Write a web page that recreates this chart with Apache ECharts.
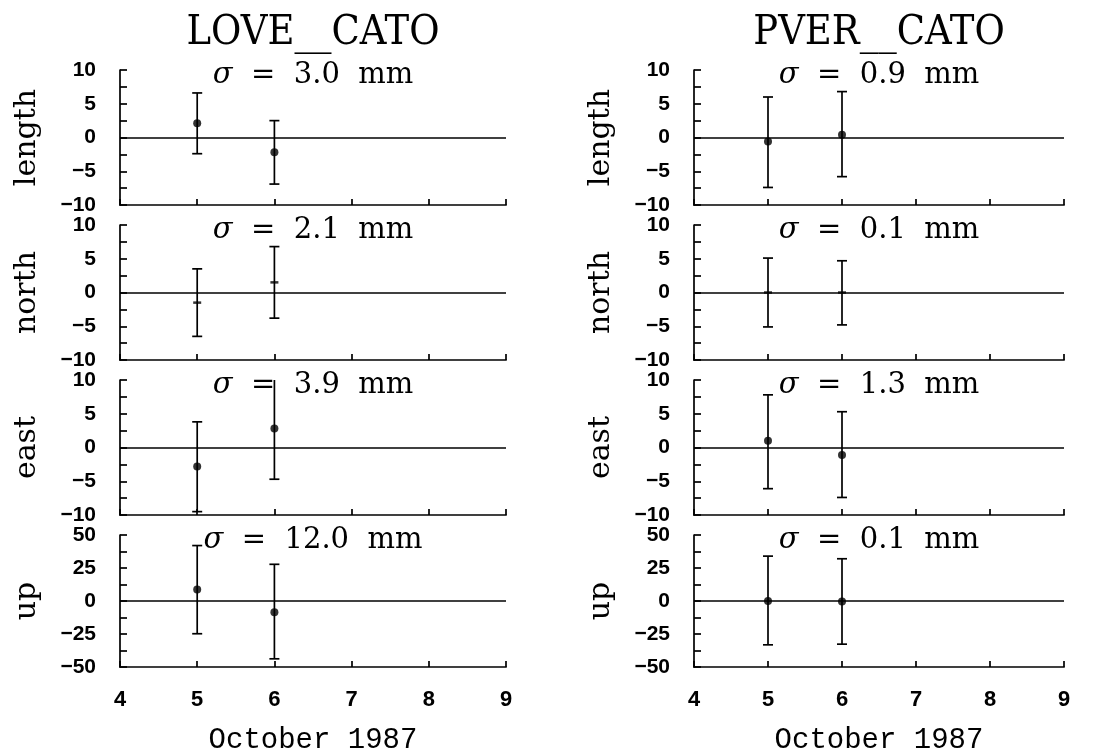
<!DOCTYPE html>
<html><head><meta charset="utf-8">
<script src="https://cdn.jsdelivr.net/npm/echarts@6/dist/echarts.min.js"></script>
<style>html,body{margin:0;padding:0;background:#fff}#c{width:1097px;height:756px}</style>
</head><body><div id="c"></div>
<script>
// ---------- data ----------
const stations = ['LOVE__CATO', 'PVER__CATO'];
const components = ['length', 'north', 'east', 'up'];
const days = [5, 6];                 // October 1987
const xMin = 4, xMax = 9, xStep = 1;
const yMin = [-10, -10, -10, -50];
const yMax = [10, 10, 10, 50];
const yTickStep = [2.5, 2.5, 2.5, 12.5];
const sigmaLOVE = ['3.0', '2.1', '3.9', '12.0'];
const sigmaPVER = ['0.9', '0.1', '1.3', '0.1'];

const loveLengthVal = [2.1, -2.2], loveLengthLow = [-2.4, -6.9], loveLengthHigh = [6.6, 2.5];
const loveNorthVal = [-1.5, 1.5], loveNorthLow = [-6.5, -3.8], loveNorthHigh = [3.5, 6.8];
const loveEastVal = [-2.8, 2.8], loveEastLow = [-9.5, -4.7], loveEastHigh = [3.8, 10.3];
const loveUpVal = [8.7, -8.5], loveUpLow = [-24.8, -43.8], loveUpHigh = [42, 27.8];

const pverLengthVal = [-0.6, 0.4], pverLengthLow = [-7.4, -5.8], pverLengthHigh = [6.0, 6.8];
const pverNorthVal = [0, 0], pverNorthLow = [-5.1, -4.8], pverNorthHigh = [5.1, 4.7];
const pverEastVal = [1.0, -1.1], pverEastLow = [-6.1, -7.4], pverEastHigh = [7.8, 5.3];
const pverUpVal = [0, -0.3], pverUpLow = [-33.2, -32.7], pverUpHigh = [34, 32];

const panels = [
  [[loveLengthVal, loveLengthLow, loveLengthHigh], [loveNorthVal, loveNorthLow, loveNorthHigh],
   [loveEastVal, loveEastLow, loveEastHigh], [loveUpVal, loveUpLow, loveUpHigh]],
  [[pverLengthVal, pverLengthLow, pverLengthHigh], [pverNorthVal, pverNorthLow, pverNorthHigh],
   [pverEastVal, pverEastLow, pverEastHigh], [pverUpVal, pverUpLow, pverUpHigh]]
];
const sigmas = [sigmaLOVE, sigmaPVER];

// ---------- layout ----------
const colLeft = [120, 694], colWidth = [386, 370];
const rowTop = [70, 225, 380, 535], rowH = 135;
const BLACK = '#000';
const lineW = 1.7;

const grid = [], xAxis = [], yAxis = [], series = [], graphic = [];

function fmtY(step) {
  return function (v) {
    const r = Math.abs(v / (step * 2) - Math.round(v / (step * 2)));
    if (r > 1e-6) return '';
    return String(v).replace('-', '\u2212');
  };
}

for (let c = 0; c < 2; c++) {
  const cx = colLeft[c] + colWidth[c] / 2;
  graphic.push({
    type: 'text', x: cx, y: 33, scaleY: 1.12,
    style: { text: stations[c], fill: BLACK, align: 'center', verticalAlign: 'middle',
             font: '37px "DejaVu Serif"' }
  });
  for (let r = 0; r < 4; r++) {
    const i = c * 4 + r;
    grid.push({ left: colLeft[c], top: rowTop[r], width: colWidth[c], height: rowH, containLabel: false });
    const last = r === 3;
    xAxis.push({
      type: 'value', gridIndex: i, min: xMin, max: xMax, interval: xStep,
      axisLine: { show: true, onZero: false, lineStyle: { color: BLACK, width: lineW } },
      axisTick: { show: true, inside: true, length: 6, lineStyle: { color: BLACK, width: lineW } },
      axisLabel: { show: last, margin: 22, color: BLACK, fontFamily: '"Liberation Mono", monospace', fontWeight: 'bold', fontSize: 22 },
      splitLine: { show: false },
      name: last ? 'October 1987' : '', nameLocation: 'middle', nameGap: 59,
      nameTextStyle: { color: BLACK, fontFamily: '"Liberation Mono", monospace', fontSize: 29 }
    });
    yAxis.push({
      type: 'value', gridIndex: i, min: yMin[r], max: yMax[r], interval: yTickStep[r],
      axisLine: { show: true, onZero: false, lineStyle: { color: BLACK, width: lineW } },
      axisTick: { show: true, inside: true, length: 7, lineStyle: { color: BLACK, width: lineW } },
      axisLabel: { show: true, margin: 24, color: BLACK, fontFamily: '"Liberation Sans", Arial, sans-serif', fontWeight: 'bold', fontSize: 21,
                   formatter: fmtY(yTickStep[r]) },
      splitLine: { show: false },
      name: components[r], nameLocation: 'middle', nameGap: 78, nameRotate: 90,
      nameTextStyle: { color: BLACK, fontFamily: '"DejaVu Serif", serif', fontSize: 30 }
    });
    const [vals, lows, highs] = panels[c][r];
    series.push({
      type: 'custom', xAxisIndex: i, yAxisIndex: i, silent: true,
      data: days.map((d, k) => [d, lows[k], highs[k]]),
      renderItem: function (params, api) {
        const cs = params.coordSys;
        const x = api.value(0);
        const lo = api.coord([x, api.value(1)]);
        const hi = api.coord([x, api.value(2)]);
        const top = cs.y, bot = cs.y + cs.height;
        const hw = 5;
        const st = { stroke: BLACK, lineWidth: lineW };
        const y1 = Math.min(Math.max(lo[1], top), bot);
        const y2 = Math.min(Math.max(hi[1], top), bot);
        const ch = [{ type: 'line', shape: { x1: lo[0], y1: y1, x2: hi[0], y2: y2 }, style: st }];
        if (lo[1] <= bot && lo[1] >= top) ch.push({ type: 'line', shape: { x1: lo[0] - hw, y1: lo[1], x2: lo[0] + hw, y2: lo[1] }, style: st });
        if (hi[1] >= top && hi[1] <= bot) ch.push({ type: 'line', shape: { x1: hi[0] - hw, y1: hi[1], x2: hi[0] + hw, y2: hi[1] }, style: st });
        return { type: 'group', children: ch };
      }
    });
    const isNorth = components[r] === 'north';
    series.push({
      type: 'scatter', xAxisIndex: i, yAxisIndex: i, silent: true,
      symbol: isNorth ? 'rect' : 'circle', symbolSize: isNorth ? [8, 2.5] : 8,
      itemStyle: { color: BLACK },
      data: days.map((d, k) => [d, vals[k]]),
      markLine: { silent: true, symbol: 'none', label: { show: false },
                  lineStyle: { color: BLACK, width: lineW, type: 'solid' }, data: [{ yAxis: 0 }] }
    });
    graphic.push({
      type: 'text', x: cx, y: rowTop[r] + 5,
      style: { text: '{s|\u03c3}  =  ' + sigmas[c][r] + '  mm', fill: BLACK, align: 'center', verticalAlign: 'middle',
               font: '29px "DejaVu Serif"',
               rich: { s: { fontStyle: 'italic', fontFamily: 'DejaVu Serif', fontSize: 29, fill: BLACK, color: BLACK } } }
    });
  }
}

const chart = echarts.init(document.getElementById('c'), null, { renderer: 'canvas' });
chart.setOption({ backgroundColor: '#fff', animation: false, grid, xAxis, yAxis, series, graphic });
</script></body></html>
